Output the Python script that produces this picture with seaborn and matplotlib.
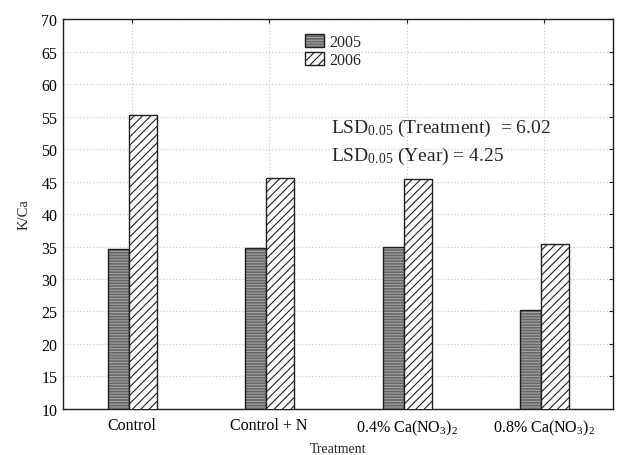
import matplotlib.pyplot as plt
import pandas as pd
import seaborn as sns
from matplotlib.patches import Patch, Rectangle
from matplotlib.legend_handler import HandlerTuple

treatments = ['Control', 'Control + N', '0.4% Ca(NO$_3$)$_2$', '0.8% Ca(NO$_3$)$_2$']
years = ['2005', '2006']
kca_2005 = [34.6, 34.7, 34.9, 25.2]
kca_2006 = [55.2, 45.5, 45.4, 35.4]

df = pd.DataFrame({
    'Treatment': treatments * 2,
    'Year': [years[0]] * 4 + [years[1]] * 4,
    'K/Ca': kca_2005 + kca_2006,
})

sns.set_style('white')
plt.rcParams['font.family'] = ['Liberation Serif', 'DejaVu Serif']
plt.rcParams['mathtext.fontset'] = 'custom'
plt.rcParams['mathtext.rm'] = 'Liberation Serif'
plt.rcParams['mathtext.it'] = 'Liberation Serif:italic'
plt.rcParams['hatch.linewidth'] = 0.8

fig = plt.figure(figsize=(6.22, 4.56), dpi=100)
fig.subplots_adjust(left=0.1013, right=0.9855, top=0.9561, bottom=0.1009)
ax = fig.add_subplot(111)

sns.barplot(data=df, x='Treatment', y='K/Ca', hue='Year', order=treatments,
            hue_order=years, width=0.35, palette=['#686868', 'white'],
            legend=False, ax=ax, zorder=3)

dark = '#1e1e1e'
# 2005: dark grey with fine light horizontal stripes
for p in ax.containers[0]:
    p.set_width(0.153)
    p.set_facecolor('#686868')
    p.set_edgecolor('#a4a4a4')
    p.set_hatch('------')
    p.set_linewidth(0)
    ax.add_patch(Rectangle(p.get_xy(), p.get_width(), p.get_height(),
                           fill=False, edgecolor=dark, lw=1.0, zorder=4))
# 2006: white with black diagonal hatch
for p in ax.containers[1]:
    p.set_x(p.get_x() - 0.022)
    p.set_width(0.204)
    p.set_facecolor('white')
    p.set_edgecolor(dark)
    p.set_hatch('////')
    p.set_linewidth(1.0)
    p.set_zorder(5)

ax.set_xlim(-0.5, 3.5)
ax.set_ylim(10, 70)
ax.set_yticks(range(10, 71, 5))
ax.set_axisbelow(True)
ax.grid(True, axis='both', color='#cccccc', linestyle=':', linewidth=0.9)

for s in ax.spines.values():
    s.set_color(dark)
    s.set_linewidth(1.0)

ax.tick_params(axis='both', direction='in', length=3, width=0.8, color=dark,
               labelsize=11.5, top=True, right=True, labelcolor='black')
ax.tick_params(axis='x', pad=6)
ax.tick_params(axis='y', pad=4)

ax.set_xlabel('Treatment', fontsize=10)
ax.set_ylabel('K/Ca', fontsize=10.5, labelpad=8)

h05 = (Patch(facecolor='#686868', edgecolor='#a4a4a4', hatch='------', lw=0),
       Patch(fill=False, edgecolor=dark, lw=1.0))
h06 = Patch(facecolor='white', edgecolor=dark, hatch='////', lw=1.0)
ax.legend([h05, h06], years, handler_map={tuple: HandlerTuple(ndivide=1)},
          loc='upper left', bbox_to_anchor=(0.44, 0.962), frameon=False,
          fontsize=11.5, handlelength=1.2, handleheight=0.85, handletextpad=0.3,
          labelspacing=0.12, borderpad=0, borderaxespad=0)

ax.text(0.487, 0.723, 'LSD$_{0.05}$ (Treatment)  = 6.02', transform=ax.transAxes,
        fontsize=14, va='center', ha='left')
ax.text(0.487, 0.649, 'LSD$_{0.05}$ (Year) = 4.25', transform=ax.transAxes,
        fontsize=14, va='center', ha='left')

plt.savefig('out.png', dpi=100)
